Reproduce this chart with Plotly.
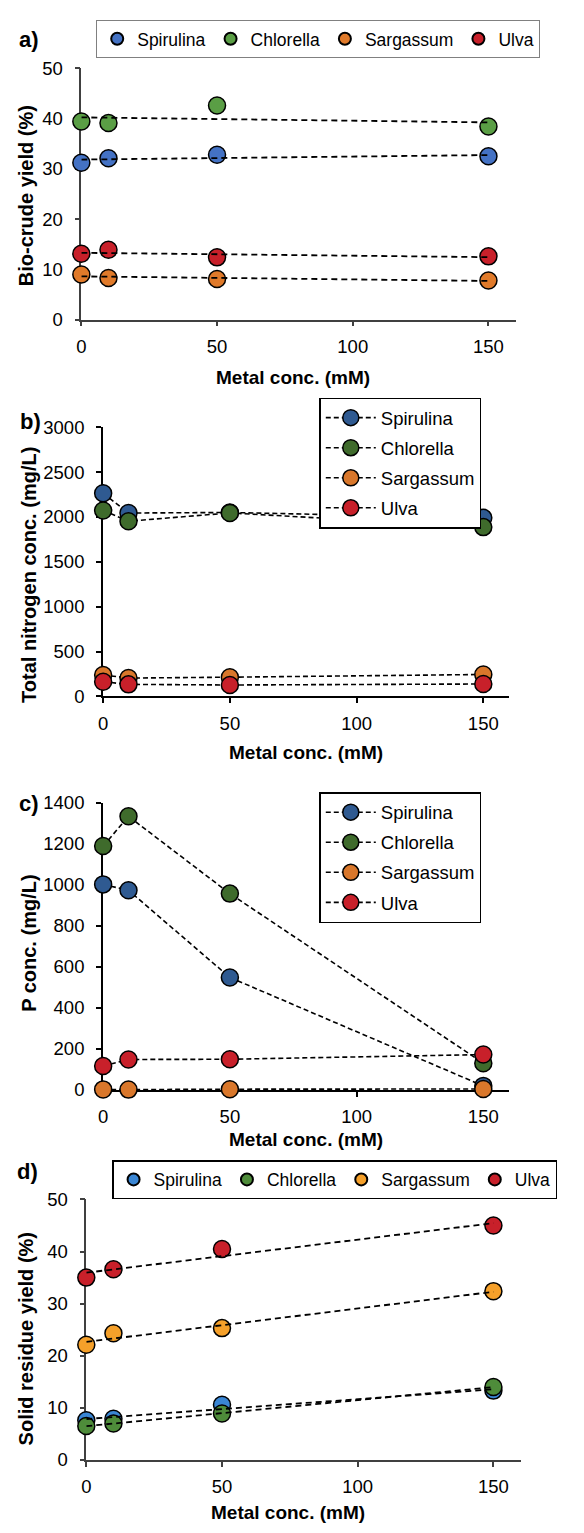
import numpy as np
import plotly.graph_objects as go

W, H = 584, 1533
x_conc = [0, 10, 50, 150]
species = ["Spirulina", "Chlorella", "Sargassum", "Ulva"]

# a) Bio-crude yield (%)
a_spirulina = [31.2, 32.1, 32.8, 32.5]
a_chlorella = [39.4, 39.1, 42.6, 38.4]
a_sargassum = [9.0, 8.3, 8.1, 7.8]
a_ulva = [13.1, 13.9, 12.4, 12.6]

# b) Total nitrogen conc. (mg/L)
b_spirulina = [2264, 2044, 2050, 1990]
b_chlorella = [2073, 1953, 2045, 1887]
b_sargassum = [240, 205, 215, 245]
b_ulva = [164, 135, 128, 139]

# c) P conc. (mg/L)
c_spirulina = [1003, 974, 549, 20]
c_chlorella = [1190, 1335, 958, 131]
c_sargassum = [3, 2, 4, 5]
c_ulva = [117, 149, 150, 173]

# d) Solid residue yield (%)
d_spirulina = [7.6, 7.9, 10.6, 13.3]
d_chlorella = [6.5, 7.0, 8.9, 14.0]
d_sargassum = [22.1, 24.3, 25.3, 32.4]
d_ulva = [35.0, 36.6, 40.5, 45.0]

colors_a = ["#4472C4", "#5A9E45", "#E07A2A", "#C8202A"]
colors_bc = ["#2F5A91", "#3F6B2C", "#D9772B", "#C8202A"]
colors_d = ["#3A86D4", "#4E8C3A", "#F5A02A", "#C8202A"]

FONT = "Liberation Sans, Arial"


def px_x(p):
    return p / W


def px_y(p):
    return 1 - p / H


fig = go.Figure()

panels = [
    dict(name="a", data=[a_spirulina, a_chlorella, a_sargassum, a_ulva], colors=colors_a,
         xd=[77, 515], yd=[58, 313], yr=[0, 50], dt=10, mode="trend", legend="legend",
         ytitle="Bio-crude yield (%)", axcol="#404040", axw=1.5,
         label=(12, 29), ytx=22, yty=187, xtx=290, xty=372),
    dict(name="b", data=[b_spirulina, b_chlorella, b_sargassum, b_ulva], colors=colors_bc,
         xd=[99, 508], yd=[422, 695], yr=[0, 3000], dt=500, mode="line", legend="legend2",
         ytitle="Total nitrogen conc. (mg/L)", axcol="#000000", axw=2,
         label=(13, 416), ytx=24, yty=572, xtx=304, xty=752),
    dict(name="c", data=[c_spirulina, c_chlorella, c_sargassum, c_ulva], colors=colors_bc,
         xd=[99, 508], yd=[803, 1094], yr=[0, 1400], dt=200, mode="line", legend="legend3",
         ytitle="P conc. (mg/L)", axcol="#000000", axw=2,
         label=(12, 804), ytx=24, yty=945, xtx=304, xty=1144),
    dict(name="d", data=[d_spirulina, d_chlorella, d_sargassum, d_ulva], colors=colors_d,
         xd=[82, 520], yd=[1205, 1469], yr=[0, 50], dt=10, mode="trend", legend="legend4",
         ytitle="Solid residue yield (%)", axcol="#404040", axw=1.5,
         label=(10, 1177), ytx=21, yty=1346, xtx=285, xty=1522),
]

annotations = []

for i, p in enumerate(panels):
    sfx = "" if i == 0 else str(i + 1)
    xa, ya = "x" + sfx, "y" + sfx
    for j, sp in enumerate(species):
        yv = p["data"][j]
        if p["mode"] == "line":
            fig.add_trace(go.Scatter(
                x=x_conc, y=yv, mode="lines+markers", name=sp, xaxis=xa, yaxis=ya,
                legend=p["legend"], legendgroup=p["name"] + sp, cliponaxis=False,
                line=dict(color="black", width=1.6, dash="5px,3px"),
                marker=dict(size=17, color=p["colors"][j], line=dict(color="black", width=1.5)),
            ))
        else:
            fig.add_trace(go.Scatter(
                x=x_conc, y=yv, mode="markers", name=sp, xaxis=xa, yaxis=ya,
                legend=p["legend"], cliponaxis=False,
                marker=dict(size=17, color=p["colors"][j], line=dict(color="black", width=1.5)),
            ))
    if p["mode"] == "trend":
        for j, sp in enumerate(species):
            k, b0 = np.polyfit(x_conc, p["data"][j], 1)
            xs = [x_conc[0], x_conc[-1]]
            fig.add_trace(go.Scatter(
                x=xs, y=[b0 + k * v for v in xs], mode="lines", showlegend=False,
                xaxis=xa, yaxis=ya, hoverinfo="skip", cliponaxis=False,
                line=dict(color="black", width=1.8, dash="6px,4px"),
            ))
    axx = dict(domain=[px_x(p["xd"][0]), px_x(p["xd"][1])], range=[0, 160], dtick=50, tick0=0,
               showgrid=False, zeroline=False, showline=True, linecolor=p["axcol"], linewidth=p["axw"],
               ticks="outside", ticklen=5, tickwidth=p["axw"], tickcolor=p["axcol"],
               tickfont=dict(size=18.5, color="#000000", family=FONT), ticklabelstandoff=4,
               anchor=ya, layer="below traces", fixedrange=True)
    axy = dict(domain=[px_y(p["yd"][1]), px_y(p["yd"][0])], range=p["yr"], dtick=p["dt"], tick0=0,
               showgrid=False, zeroline=False, showline=True, linecolor=p["axcol"], linewidth=p["axw"],
               ticks="outside", ticklen=5, tickwidth=p["axw"], tickcolor=p["axcol"],
               tickfont=dict(size=18.5, color="#000000", family=FONT), ticklabelstandoff=8,
               anchor=xa, layer="below traces", fixedrange=True)
    fig.update_layout({"xaxis" + sfx: axx, "yaxis" + sfx: axy})

    lx, ly = p["label"]
    annotations.append(dict(text="<b>%s)</b>" % p["name"], x=px_x(lx), y=px_y(ly), xref="paper", yref="paper",
                            xanchor="left", yanchor="middle", showarrow=False,
                            font=dict(size=22, color="black", family=FONT)))
    annotations.append(dict(text="<b>%s</b>" % p["ytitle"], x=px_x(p["ytx"]), y=px_y(p["yty"]),
                            xref="paper", yref="paper",
                            textangle=-90, xanchor="center", yanchor="middle", showarrow=False,
                            font=dict(size=20, color="black", family=FONT)))
    annotations.append(dict(text="<b>Metal conc. (mM)</b>", x=px_x(p["xtx"]), y=px_y(p["xty"]),
                            xref="paper", yref="paper",
                            xanchor="center", yanchor="middle", showarrow=False,
                            font=dict(size=19, color="black", family=FONT)))

legfont_h = dict(size=17.5, color="black", family=FONT)
legfont_v = dict(size=18.5, color="black", family=FONT)
fig.update_layout(
    width=W, height=H, margin=dict(l=0, r=0, t=0, b=0),
    paper_bgcolor="white", plot_bgcolor="white",
    annotations=annotations,
    legend=dict(orientation="h", x=px_x(92), y=px_y(9), xanchor="left", yanchor="top",
                bordercolor="#808080", borderwidth=1, font=legfont_h, itemwidth=30,
                itemsizing="constant", bgcolor="white"),
    legend2=dict(orientation="v", x=px_x(317), y=px_y(392), xanchor="left", yanchor="top",
                 bordercolor="black", borderwidth=1.5, font=legfont_v, itemwidth=50,
                 tracegroupgap=3, bgcolor="white"),
    legend3=dict(orientation="v", x=px_x(317), y=px_y(792), xanchor="left", yanchor="top",
                 bordercolor="black", borderwidth=1.5, font=legfont_v, itemwidth=50,
                 tracegroupgap=3, bgcolor="white"),
    legend4=dict(orientation="h", x=px_x(108), y=px_y(1165), xanchor="left", yanchor="top",
                 bordercolor="black", borderwidth=1.5, font=legfont_h, itemwidth=30,
                 itemsizing="constant", bgcolor="white"),
    showlegend=True,
)

fig.write_html("out.html", config={"displayModeBar": False},
               post_script="document.body.style.margin='0';")
